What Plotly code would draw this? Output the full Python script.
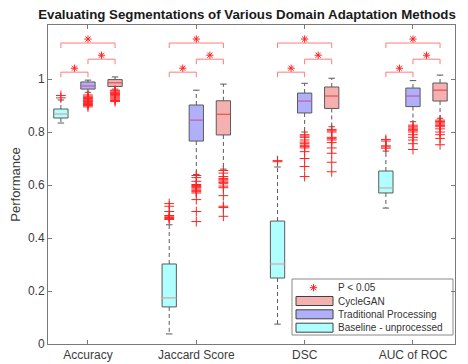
import plotly.graph_objects as go

categories = ["Accuracy", "Jaccard Score", "DSC", "AUC of ROC"]
methods = ["Baseline - unprocessed", "Traditional Processing", "CycleGAN"]

# box statistics per method, per category
baseline_q1 = [0.853, 0.140, 0.249, 0.570]
baseline_med = [0.868, 0.174, 0.302, 0.589]
baseline_q3 = [0.887, 0.302, 0.464, 0.653]
baseline_lo = [0.834, 0.038, 0.075, 0.513]
baseline_hi = [0.921, 0.450, 0.668, 0.728]
baseline_out = [
    [0.938, 0.929],
    [0.530, 0.520, 0.500, 0.485, 0.480, 0.477, 0.474, 0.470],
    [0.692, 0.688],
    [0.772, 0.766, 0.748, 0.744, 0.739],
]

trad_q1 = [0.962, 0.766, 0.872, 0.896]
trad_med = [0.974, 0.845, 0.917, 0.936]
trad_q3 = [0.989, 0.902, 0.947, 0.966]
trad_lo = [0.950, 0.640, 0.800, 0.839]
trad_hi = [0.996, 0.958, 0.984, 0.994]
trad_out = [
    [0.940, 0.935, 0.930, 0.927, 0.924, 0.921, 0.918, 0.915, 0.912, 0.908, 0.904, 0.900, 0.895],
    [0.636, 0.628, 0.614, 0.602, 0.598, 0.594, 0.590, 0.585, 0.580, 0.575, 0.570, 0.545, 0.500, 0.462],
    [0.790, 0.785, 0.780, 0.770, 0.762, 0.756, 0.750, 0.745, 0.740, 0.726, 0.700, 0.670, 0.632],
    [0.826, 0.820, 0.815, 0.810, 0.805, 0.800, 0.790, 0.780, 0.770, 0.756, 0.734],
]

cycle_q1 = [0.972, 0.789, 0.889, 0.917]
cycle_med = [0.986, 0.867, 0.936, 0.958]
cycle_q3 = [0.998, 0.918, 0.970, 0.985]
cycle_lo = [0.962, 0.660, 0.820, 0.852]
cycle_hi = [1.008, 0.981, 1.003, 1.015]
cycle_out = [
    [0.958, 0.955, 0.951, 0.948, 0.945, 0.942, 0.939, 0.936, 0.932, 0.928, 0.924, 0.919, 0.915],
    [0.655, 0.645, 0.632, 0.625, 0.620, 0.615, 0.610, 0.605, 0.596, 0.590, 0.560, 0.520, 0.515, 0.482],
    [0.810, 0.805, 0.800, 0.780, 0.775, 0.770, 0.760, 0.740, 0.720, 0.686, 0.650],
    [0.845, 0.840, 0.835, 0.830, 0.825, 0.820, 0.812, 0.800, 0.790, 0.776, 0.752],
]

# significance brackets (pairs of method indices) and their heights
sig_pairs = [(0, 1), (1, 2), (0, 2)]
sig_levels = [1.026, 1.075, 1.136]
sig_label = "P < 0.05"

stats = [
    (baseline_q1, baseline_med, baseline_q3, baseline_lo, baseline_hi, baseline_out),
    (trad_q1, trad_med, trad_q3, trad_lo, trad_hi, trad_out),
    (cycle_q1, cycle_med, cycle_q3, cycle_lo, cycle_hi, cycle_out),
]
fills = ["rgb(176,255,255)", "rgb(176,176,250)", "rgb(245,176,176)"]
median_colors = ["#d9a3a3", "#c85a9e", "#e35050"]
offsets = [-0.25, 0.0, 0.25]
half_w = 0.066
cap_w = 0.03
edge = "#5a5a5a"
red = "#ff2020"

# the page body adds an 8px offset, so the figure is 8px smaller than the window
OFF = 8
W, H = 468 - OFF, 364 - OFF
# plot area edges in window pixels
PL, PR, PT, PB = 48, 455, 25, 344
PW, PH = PR - PL, PB - PT


def pxx(px):
    return (px - PL) / PW


def pxy(py):
    return (PB - py) / PH


fig = go.Figure()

# significance brackets and stars
bx, by, sx, sy = [], [], [], []
for ci in range(len(categories)):
    for (a, b), lev in zip(sig_pairs, sig_levels):
        xa = ci + 1 + offsets[a]
        xb = ci + 1 + offsets[b]
        bx += [xa, xa, xb, xb, None]
        by += [lev - 0.019, lev, lev, lev - 0.019, None]
        sx.append((xa + xb) / 2)
        sy.append(lev + 0.015)
fig.add_trace(go.Scatter(x=bx, y=by, mode="lines", line=dict(color="#ff7a7a", width=1),
                         showlegend=False, hoverinfo="skip"))
star_marker = dict(symbol="asterisk-open", size=6, color=red, line=dict(color=red, width=1))
fig.add_trace(go.Scatter(x=sx, y=sy, mode="markers", marker=star_marker,
                         showlegend=False, hoverinfo="skip"))

for mi, (q1, med, q3, lo, hi, outs) in enumerate(stats):
    px, py, mx, my, wx, wy, cx, cy, ox, oy = [], [], [], [], [], [], [], [], [], []
    for ci in range(len(categories)):
        xc = ci + 1 + offsets[mi]
        px += [xc - half_w, xc + half_w, xc + half_w, xc - half_w, xc - half_w, None]
        py += [q1[ci], q1[ci], q3[ci], q3[ci], q1[ci], None]
        mx += [xc - half_w, xc + half_w, None]
        my += [med[ci], med[ci], None]
        wx += [xc, xc, None, xc, xc, None]
        wy += [q3[ci], hi[ci], None, q1[ci], lo[ci], None]
        cx += [xc - cap_w, xc + cap_w, None, xc - cap_w, xc + cap_w, None]
        cy += [hi[ci], hi[ci], None, lo[ci], lo[ci], None]
        for v in outs[ci]:
            ox.append(xc)
            oy.append(v)
    fig.add_trace(go.Scatter(x=wx, y=wy, mode="lines", line=dict(color=edge, width=1, dash="4px,3px"),
                             showlegend=False, hoverinfo="skip"))
    fig.add_trace(go.Scatter(x=cx, y=cy, mode="lines", line=dict(color=edge, width=1),
                             showlegend=False, hoverinfo="skip"))
    fig.add_trace(go.Scatter(x=px, y=py, mode="lines", fill="toself", fillcolor=fills[mi],
                             line=dict(color=edge, width=1), name=methods[mi],
                             showlegend=False))
    fig.add_trace(go.Scatter(x=mx, y=my, mode="lines", line=dict(color=median_colors[mi], width=1.2),
                             showlegend=False, hoverinfo="skip"))
    fig.add_trace(go.Scatter(x=ox, y=oy, mode="markers",
                             marker=dict(symbol="cross-thin-open", size=7, color=red,
                                         line=dict(color=red, width=1)),
                             showlegend=False, hoverinfo="skip"))

# custom legend (drawn in paper space)
shapes = [dict(type="rect", xref="paper", yref="paper", x0=pxx(292), x1=pxx(453),
               y0=pxy(335), y1=pxy(279), line=dict(color="#8a8a8a", width=1),
               fillcolor="white", layer="below")]
annotations = []
legend_items = [(sig_label, None), ("CycleGAN", 2), ("Traditional Processing", 1),
                ("Baseline - unprocessed", 0)]
row_y = [287.7, 301.0, 314.3, 327.7]
for (label, mi), ry in zip(legend_items, row_y):
    if mi is not None:
        shapes.append(dict(type="rect", xref="paper", yref="paper", x0=pxx(296), x1=pxx(333),
                           y0=pxy(ry + 4.5), y1=pxy(ry - 4.5), fillcolor=fills[mi],
                           line=dict(color="#404040", width=1), layer="above"))
    annotations.append(dict(x=pxx(335.5), y=pxy(ry), xref="paper", yref="paper", text=label,
                            showarrow=False, xanchor="left", yanchor="middle",
                            font=dict(size=10, color="#333333")))
fig.add_trace(go.Scatter(x=[pxx(313.5)], y=[pxy(row_y[0])], xaxis="x2", yaxis="y2",
                         mode="markers", marker=star_marker, showlegend=False, hoverinfo="skip"))

axis_col = "#7a7a7a"
fig.update_layout(
    width=W, height=H,
    margin=dict(l=PL - OFF, r=468 - PR, t=PT - OFF, b=364 - PB, autoexpand=False),
    paper_bgcolor="white", plot_bgcolor="white",
    font=dict(family="Liberation Sans, Arial, sans-serif", size=12, color="#3c3c3c"),
    title=dict(text="<b>Evaluating Segmentations of Various Domain Adaptation Methods</b>",
               x=(247 - OFF) / W, xref="container", xanchor="center",
               y=1 - (14.5 - OFF) / H, yanchor="middle",
               font=dict(size=13.3, color="#1a1a1a")),
    showlegend=False,
    shapes=shapes,
    annotations=annotations,
    xaxis=dict(range=[0.631, 4.388], tickvals=[1, 2, 3, 4], ticktext=categories,
               automargin=False,
               showgrid=False, zeroline=False, showline=True, linecolor=axis_col, linewidth=1,
               mirror="ticks", ticks="inside", ticklen=4, tickcolor=axis_col),
    yaxis=dict(range=[0, 1.204], tickvals=[0, 0.2, 0.4, 0.6, 0.8, 1],
               ticktext=["0", "0.2", "0.4", "0.6", "0.8", "1"],
               title=dict(text="Performance", standoff=6, font=dict(size=13)), automargin=False,
               showgrid=False, zeroline=False, showline=True, linecolor=axis_col, linewidth=1,
               mirror="ticks", ticks="inside", ticklen=4, tickcolor=axis_col),
    xaxis2=dict(overlaying="x", range=[0, 1], visible=False, fixedrange=True),
    yaxis2=dict(overlaying="y", range=[0, 1], visible=False, fixedrange=True),
)

fig.write_html("out.html")
